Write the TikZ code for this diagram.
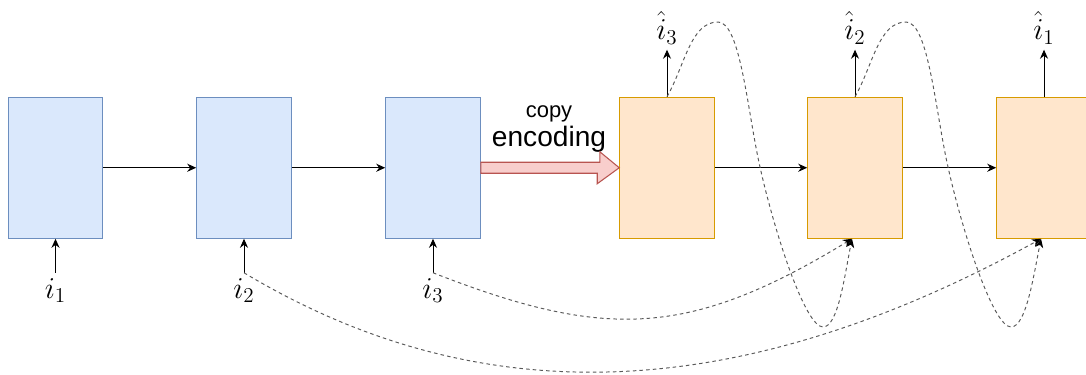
\documentclass[tikz,border=0pt]{standalone}
\usepackage{fontspec}
\newfontfamily\helvfont{Liberation Sans}
\usetikzlibrary{arrows.meta,positioning}
\definecolor{encfill}{HTML}{DAE8FC}
\definecolor{encdraw}{HTML}{6C8EBF}
\definecolor{decfill}{HTML}{FFE6CC}
\definecolor{decdraw}{HTML}{D79B00}
\definecolor{copyfill}{HTML}{F8CECC}
\definecolor{copydraw}{HTML}{B85450}

\begin{document}
\begin{tikzpicture}[
		encbox/.style={rectangle, draw=encdraw, fill=encfill, line width=0.6pt, minimum width=1.89cm, minimum height=2.82cm, inner sep=0pt},
		decbox/.style={rectangle, draw=decdraw, fill=decfill, line width=0.6pt, minimum width=1.89cm, minimum height=2.82cm, inner sep=0pt},
		symlabel/.style={inner sep=3pt, font=\LARGE},
		flow/.style={-{Stealth[length=1.8mm, width=1.6mm]}, line width=0.55pt},
		feedback/.style={-{Stealth[length=1.8mm, width=1.6mm, black]}, line width=0.55pt, draw=black!65, dash pattern=on 2pt off 1.8pt},
		copyarrow/.style={draw=copydraw, fill=copyfill, line width=0.6pt}
	]
		\useasboundingbox (0,0) rectangle (21.72,7.48);
		
		% encoder
		\node (rectenca) [encbox] at (1.11,4.125) {};
		\node (rectencb) [encbox] at (4.88,4.125) {};
		\node (rectencc) [encbox] at (8.66,4.125) {};
		
		% decoder
		\node (rectdeca) [decbox] at (13.34,4.125) {};
		\node (rectdecb) [decbox] at (17.1,4.125) {};
		\node (rectdecc) [decbox] at (20.88,4.125) {};
		
		\node (inone) [symlabel, below=0.68cm of rectenca] {$i_1$};
		\node (intwo) [symlabel, below=0.68cm of rectencb] {$i_2$};
		\node (inthree) [symlabel, below=0.68cm of rectencc] {$i_3$};
		
		\node (outthree) [symlabel, above=0.94cm of rectdeca] {$\hat{i}_3$};
		\node (outtwo) [symlabel, above=0.94cm of rectdecb] {$\hat{i}_2$};
		\node (outone) [symlabel, above=0.94cm of rectdecc] {$\hat{i}_1$};
		
		\node (copylbl) [anchor=base, font=\helvfont\fontsize{12.5}{15}\selectfont] at (10.98,5.12) {copy};
		\node (enclbl) [anchor=base, font=\helvfont\fontsize{16}{19}\selectfont] at (10.98,4.54) {encoding};
		
		\draw [flow] (rectenca) -- (rectencb);
		\draw [flow] (rectencb) -- (rectencc);
		\draw [flow] (rectdeca) -- (rectdecb);
		\draw [flow] (rectdecb) -- (rectdecc);
		
		\draw [flow] (inone) -- (rectenca);
		\draw [flow] (intwo) -- (rectencb);
		\draw [flow] (inthree) -- (rectencc);
		\draw [flow] (rectdeca) -- (outthree);
		\draw [flow] (rectdecb) -- (outtwo);
		\draw [flow] (rectdecc) -- (outone);
		
		% copy encoding arrow
		\draw [copyarrow] ([yshift=0.11cm]rectencc.east) -- ++(2.38,0) -- ++(0,0.21) -- (rectdeca.west)
			-- ++(-0.44,-0.32) -- ++(0,0.21) -- ([yshift=-0.11cm]rectencc.east) -- cycle;
		
		% fed back outputs
		\draw [feedback] (rectdeca.north) .. controls +(0.36,0.63) and +(-0.55,0) .. (14.36,7.04)
			.. controls +(0.45,0) and +(-0.25,1.1) .. (15.2,4.14)
			.. controls +(0.3,-1.35) and +(-0.35,0) .. (16.46,0.94)
			.. controls +(0.3,0) and +(-0.15,-0.75) .. ([xshift=-0.06cm]rectdecb.south);
		\draw [feedback] (rectdecb.north) .. controls +(0.36,0.63) and +(-0.55,0) .. (18.12,7.04)
			.. controls +(0.45,0) and +(-0.25,1.1) .. (18.96,4.14)
			.. controls +(0.3,-1.35) and +(-0.35,0) .. (20.22,0.94)
			.. controls +(0.3,0) and +(-0.15,-0.75) .. ([xshift=-0.06cm]rectdecc.south);
		
		% skip inputs
		\draw [feedback] (inthree.north) .. controls +(3.43,-1.34) and +(-3.27,-1.99) .. ([xshift=-0.06cm]rectdecb.south);
		\draw [feedback] (intwo.north) .. controls +(4.77,-2.86) and +(-6.0,-3.3) .. ([xshift=-0.06cm]rectdecc.south);
		
	\end{tikzpicture}
\end{document}
